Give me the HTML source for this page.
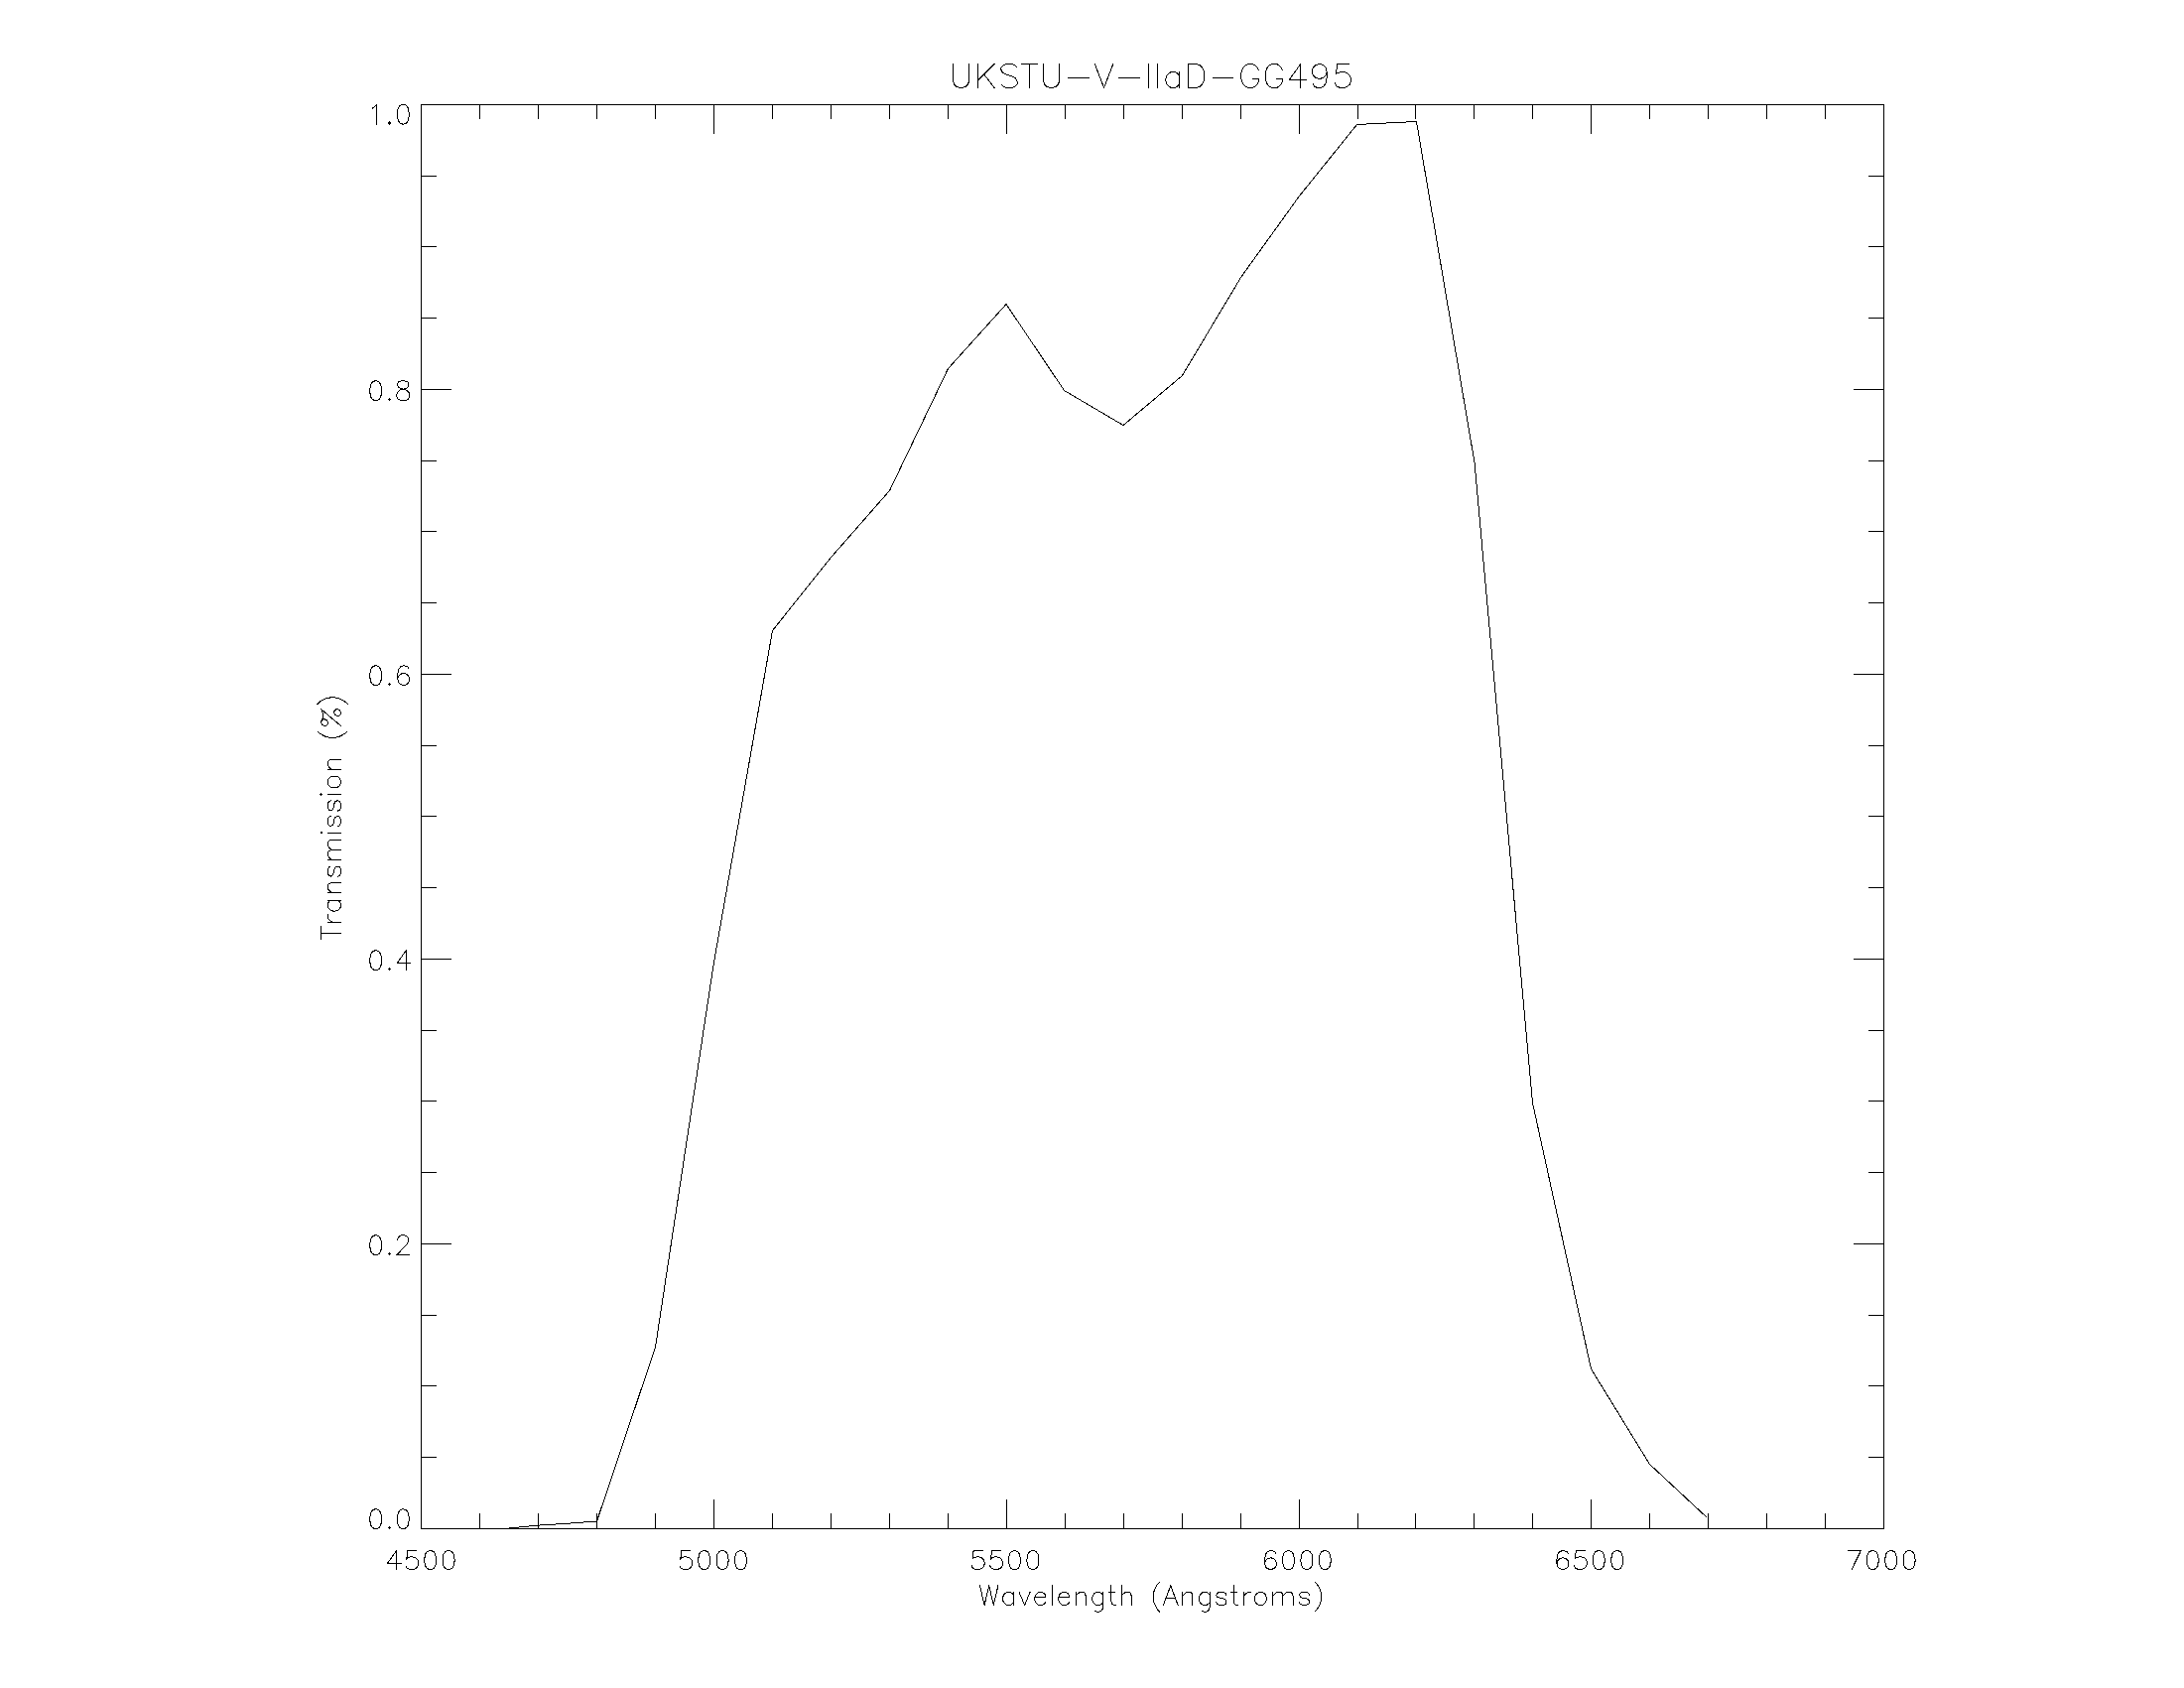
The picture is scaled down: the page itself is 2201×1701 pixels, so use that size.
<!DOCTYPE html>
<html lang="en">
<head>
<meta charset="utf-8">
<title>UKSTU-V-IIaD-GG495 transmission curve</title>
<style>
html,body{margin:0;padding:0;background:#fff;}
body{width:2201px;height:1701px;overflow:hidden;font-family:"Liberation Sans",sans-serif;}
svg{display:block;}
.lbl text{fill:transparent;font-family:"Liberation Sans",sans-serif;}
</style>
</head>
<body>
<svg width="2201" height="1701" viewBox="0 0 2201 1701">
<rect width="2201" height="1701" fill="#fff"/>
<path d="M424 105h1475v1h-1475zM424 1540h1475v1h-1475zM424 105h1v1436h-1zM1898 105h1v1436h-1zM483 1525h1v15h-1zM483 106h1v14h-1zM542 1525h1v15h-1zM542 106h1v14h-1zM601 1525h1v15h-1zM601 106h1v14h-1zM660 1525h1v15h-1zM660 106h1v14h-1zM719 1511h1v29h-1zM719 106h1v29h-1zM778 1525h1v15h-1zM778 106h1v14h-1zM837 1525h1v15h-1zM837 106h1v14h-1zM896 1525h1v15h-1zM896 106h1v14h-1zM955 1525h1v15h-1zM955 106h1v14h-1zM1014 1511h1v29h-1zM1014 106h1v29h-1zM1073 1525h1v15h-1zM1073 106h1v14h-1zM1132 1525h1v15h-1zM1132 106h1v14h-1zM1191 1525h1v15h-1zM1191 106h1v14h-1zM1250 1525h1v15h-1zM1250 106h1v14h-1zM1309 1511h1v29h-1zM1309 106h1v29h-1zM1368 1525h1v15h-1zM1368 106h1v14h-1zM1426 1525h1v15h-1zM1426 106h1v14h-1zM1485 1525h1v15h-1zM1485 106h1v14h-1zM1544 1525h1v15h-1zM1544 106h1v14h-1zM1603 1511h1v29h-1zM1603 106h1v29h-1zM1662 1525h1v15h-1zM1662 106h1v14h-1zM1721 1525h1v15h-1zM1721 106h1v14h-1zM1780 1525h1v15h-1zM1780 106h1v14h-1zM1839 1525h1v15h-1zM1839 106h1v14h-1zM425 1468h15v1h-15zM1883 1468h15v1h-15zM425 1396h15v1h-15zM1883 1396h15v1h-15zM425 1325h15v1h-15zM1883 1325h15v1h-15zM425 1253h30v1h-30zM1868 1253h30v1h-30zM425 1181h15v1h-15zM1883 1181h15v1h-15zM425 1109h15v1h-15zM1883 1109h15v1h-15zM425 1038h15v1h-15zM1883 1038h15v1h-15zM425 966h30v1h-30zM1868 966h30v1h-30zM425 894h15v1h-15zM1883 894h15v1h-15zM425 822h15v1h-15zM1883 822h15v1h-15zM425 751h15v1h-15zM1883 751h15v1h-15zM425 679h30v1h-30zM1868 679h30v1h-30zM425 607h15v1h-15zM1883 607h15v1h-15zM425 535h15v1h-15zM1883 535h15v1h-15zM425 464h15v1h-15zM1883 464h15v1h-15zM425 392h30v1h-30zM1868 392h30v1h-30zM425 320h15v1h-15zM1883 320h15v1h-15zM425 248h15v1h-15zM1883 248h15v1h-15zM425 177h15v1h-15zM1883 177h15v1h-15z" fill="#000" shape-rendering="crispEdges"/>
<path d="M513.5 1539.9 L542.5 1537.1 L572.5 1535.2 L601.5 1533.0 L660.5 1357.5 L719.5 969.5 L778.5 635.5 L838.0 561.0 L896.5 494.5 L955.5 371.5 L1014.0 306.5 L1072.5 393.5 L1132.0 428.5 L1191.5 378.5 L1250.5 279.5 L1309.5 197.5 L1367.5 125.5 L1427.5 122.5 L1486.0 466.0 L1544.5 1111.5 L1603.5 1379.5 L1662.5 1475.5 L1720.5 1529.5" fill="none" stroke="#000" stroke-width="1" stroke-linejoin="miter" shape-rendering="crispEdges"/>
<path d="M399.66 1562.7 L390.46 1575.23 L404.26 1575.23M399.66 1562.7 L399.66 1581.5M419.9 1562.7 L410.7 1562.7 L409.78 1570.76 L410.7 1569.87 L413.46 1568.97 L416.22 1568.97 L418.98 1569.87 L420.82 1571.65 L421.74 1574.34 L421.74 1576.13 L420.82 1578.82 L418.98 1580.61 L416.22 1581.5 L413.46 1581.5 L410.7 1580.61 L409.78 1579.71 L408.86 1577.92M432.85 1562.7 L430.31 1563.6 L428.62 1566.29 L427.78 1570.76 L427.78 1573.44 L428.62 1577.92 L430.31 1580.61 L432.85 1581.5 L434.55 1581.5 L437.09 1580.61 L438.78 1577.92 L439.62 1573.44 L439.62 1570.76 L438.78 1566.29 L437.09 1563.6 L434.55 1562.7 L432.85 1562.7M451.25 1562.7 L448.71 1563.6 L447.02 1566.29 L446.18 1570.76 L446.18 1573.44 L447.02 1577.92 L448.71 1580.61 L451.25 1581.5 L452.95 1581.5 L455.49 1580.61 L457.18 1577.92 L458.02 1573.44 L458.02 1570.76 L457.18 1566.29 L455.49 1563.6 L452.95 1562.7 L451.25 1562.7M695.9 1562.7 L686.7 1562.7 L685.78 1570.76 L686.7 1569.87 L689.46 1568.97 L692.22 1568.97 L694.98 1569.87 L696.82 1571.65 L697.74 1574.34 L697.74 1576.13 L696.82 1578.82 L694.98 1580.61 L692.22 1581.5 L689.46 1581.5 L686.7 1580.61 L685.78 1579.71 L684.86 1577.92M708.85 1562.7 L706.31 1563.6 L704.62 1566.29 L703.78 1570.76 L703.78 1573.44 L704.62 1577.92 L706.31 1580.61 L708.85 1581.5 L710.55 1581.5 L713.09 1580.61 L714.78 1577.92 L715.62 1573.44 L715.62 1570.76 L714.78 1566.29 L713.09 1563.6 L710.55 1562.7 L708.85 1562.7M727.25 1562.7 L724.71 1563.6 L723.02 1566.29 L722.18 1570.76 L722.18 1573.44 L723.02 1577.92 L724.71 1580.61 L727.25 1581.5 L728.95 1581.5 L731.49 1580.61 L733.18 1577.92 L734.02 1573.44 L734.02 1570.76 L733.18 1566.29 L731.49 1563.6 L728.95 1562.7 L727.25 1562.7M745.65 1562.7 L743.11 1563.6 L741.42 1566.29 L740.58 1570.76 L740.58 1573.44 L741.42 1577.92 L743.11 1580.61 L745.65 1581.5 L747.35 1581.5 L749.89 1580.61 L751.58 1577.92 L752.42 1573.44 L752.42 1570.76 L751.58 1566.29 L749.89 1563.6 L747.35 1562.7 L745.65 1562.7M990.3 1562.7 L981.1 1562.7 L980.18 1570.76 L981.1 1569.87 L983.86 1568.97 L986.62 1568.97 L989.38 1569.87 L991.22 1571.65 L992.14 1574.34 L992.14 1576.13 L991.22 1578.82 L989.38 1580.61 L986.62 1581.5 L983.86 1581.5 L981.1 1580.61 L980.18 1579.71 L979.26 1577.92M1008.7 1562.7 L999.5 1562.7 L998.58 1570.76 L999.5 1569.87 L1002.26 1568.97 L1005.02 1568.97 L1007.78 1569.87 L1009.62 1571.65 L1010.54 1574.34 L1010.54 1576.13 L1009.62 1578.82 L1007.78 1580.61 L1005.02 1581.5 L1002.26 1581.5 L999.5 1580.61 L998.58 1579.71 L997.66 1577.92M1021.65 1562.7 L1019.11 1563.6 L1017.42 1566.29 L1016.58 1570.76 L1016.58 1573.44 L1017.42 1577.92 L1019.11 1580.61 L1021.65 1581.5 L1023.35 1581.5 L1025.89 1580.61 L1027.58 1577.92 L1028.42 1573.44 L1028.42 1570.76 L1027.58 1566.29 L1025.89 1563.6 L1023.35 1562.7 L1021.65 1562.7M1040.05 1562.7 L1037.51 1563.6 L1035.82 1566.29 L1034.98 1570.76 L1034.98 1573.44 L1035.82 1577.92 L1037.51 1580.61 L1040.05 1581.5 L1041.75 1581.5 L1044.29 1580.61 L1045.98 1577.92 L1046.82 1573.44 L1046.82 1570.76 L1045.98 1566.29 L1044.29 1563.6 L1041.75 1562.7 L1040.05 1562.7M1285.62 1565.39 L1284.7 1563.6 L1281.94 1562.7 L1280.1 1562.7 L1277.34 1563.6 L1275.5 1566.29 L1274.58 1570.76 L1274.58 1575.23 L1275.5 1578.82 L1277.34 1580.61 L1280.1 1581.5 L1281.02 1581.5 L1283.78 1580.61 L1285.62 1578.82 L1286.54 1576.13 L1286.54 1575.23 L1285.62 1572.55 L1283.78 1570.76 L1281.02 1569.87 L1280.1 1569.87 L1277.34 1570.76 L1275.5 1572.55 L1274.58 1575.23M1297.65 1562.7 L1295.11 1563.6 L1293.42 1566.29 L1292.58 1570.76 L1292.58 1573.44 L1293.42 1577.92 L1295.11 1580.61 L1297.65 1581.5 L1299.35 1581.5 L1301.89 1580.61 L1303.58 1577.92 L1304.42 1573.44 L1304.42 1570.76 L1303.58 1566.29 L1301.89 1563.6 L1299.35 1562.7 L1297.65 1562.7M1316.05 1562.7 L1313.51 1563.6 L1311.82 1566.29 L1310.98 1570.76 L1310.98 1573.44 L1311.82 1577.92 L1313.51 1580.61 L1316.05 1581.5 L1317.75 1581.5 L1320.29 1580.61 L1321.98 1577.92 L1322.82 1573.44 L1322.82 1570.76 L1321.98 1566.29 L1320.29 1563.6 L1317.75 1562.7 L1316.05 1562.7M1334.45 1562.7 L1331.91 1563.6 L1330.22 1566.29 L1329.38 1570.76 L1329.38 1573.44 L1330.22 1577.92 L1331.91 1580.61 L1334.45 1581.5 L1336.15 1581.5 L1338.69 1580.61 L1340.38 1577.92 L1341.22 1573.44 L1341.22 1570.76 L1340.38 1566.29 L1338.69 1563.6 L1336.15 1562.7 L1334.45 1562.7M1580.02 1565.39 L1579.1 1563.6 L1576.34 1562.7 L1574.5 1562.7 L1571.74 1563.6 L1569.9 1566.29 L1568.98 1570.76 L1568.98 1575.23 L1569.9 1578.82 L1571.74 1580.61 L1574.5 1581.5 L1575.42 1581.5 L1578.18 1580.61 L1580.02 1578.82 L1580.94 1576.13 L1580.94 1575.23 L1580.02 1572.55 L1578.18 1570.76 L1575.42 1569.87 L1574.5 1569.87 L1571.74 1570.76 L1569.9 1572.55 L1568.98 1575.23M1597.5 1562.7 L1588.3 1562.7 L1587.38 1570.76 L1588.3 1569.87 L1591.06 1568.97 L1593.82 1568.97 L1596.58 1569.87 L1598.42 1571.65 L1599.34 1574.34 L1599.34 1576.13 L1598.42 1578.82 L1596.58 1580.61 L1593.82 1581.5 L1591.06 1581.5 L1588.3 1580.61 L1587.38 1579.71 L1586.46 1577.92M1610.45 1562.7 L1607.91 1563.6 L1606.22 1566.29 L1605.38 1570.76 L1605.38 1573.44 L1606.22 1577.92 L1607.91 1580.61 L1610.45 1581.5 L1612.15 1581.5 L1614.69 1580.61 L1616.38 1577.92 L1617.22 1573.44 L1617.22 1570.76 L1616.38 1566.29 L1614.69 1563.6 L1612.15 1562.7 L1610.45 1562.7M1628.85 1562.7 L1626.31 1563.6 L1624.62 1566.29 L1623.78 1570.76 L1623.78 1573.44 L1624.62 1577.92 L1626.31 1580.61 L1628.85 1581.5 L1630.55 1581.5 L1633.09 1580.61 L1634.78 1577.92 L1635.62 1573.44 L1635.62 1570.76 L1634.78 1566.29 L1633.09 1563.6 L1630.55 1562.7 L1628.85 1562.7M1875.34 1562.7 L1866.14 1581.5M1862.46 1562.7 L1875.34 1562.7M1886.45 1562.7 L1883.91 1563.6 L1882.22 1566.29 L1881.38 1570.76 L1881.38 1573.44 L1882.22 1577.92 L1883.91 1580.61 L1886.45 1581.5 L1888.15 1581.5 L1890.69 1580.61 L1892.38 1577.92 L1893.22 1573.44 L1893.22 1570.76 L1892.38 1566.29 L1890.69 1563.6 L1888.15 1562.7 L1886.45 1562.7M1904.85 1562.7 L1902.31 1563.6 L1900.62 1566.29 L1899.78 1570.76 L1899.78 1573.44 L1900.62 1577.92 L1902.31 1580.61 L1904.85 1581.5 L1906.55 1581.5 L1909.09 1580.61 L1910.78 1577.92 L1911.62 1573.44 L1911.62 1570.76 L1910.78 1566.29 L1909.09 1563.6 L1906.55 1562.7 L1904.85 1562.7M1923.25 1562.7 L1920.71 1563.6 L1919.02 1566.29 L1918.18 1570.76 L1918.18 1573.44 L1919.02 1577.92 L1920.71 1580.61 L1923.25 1581.5 L1924.95 1581.5 L1927.49 1580.61 L1929.18 1577.92 L1930.02 1573.44 L1930.02 1570.76 L1929.18 1566.29 L1927.49 1563.6 L1924.95 1562.7 L1923.25 1562.7M377.85 1520.97 L375.31 1521.9 L373.62 1524.69 L372.78 1529.34 L372.78 1532.13 L373.62 1536.78 L375.31 1539.57 L377.85 1540.5 L379.55 1540.5 L382.09 1539.57 L383.78 1536.78 L384.62 1532.13 L384.62 1529.34 L383.78 1524.69 L382.09 1521.9 L379.55 1520.97 L377.85 1520.97M405.45 1520.97 L402.91 1521.9 L401.22 1524.69 L400.38 1529.34 L400.38 1532.13 L401.22 1536.78 L402.91 1539.57 L405.45 1540.5 L407.15 1540.5 L409.69 1539.57 L411.38 1536.78 L412.22 1532.13 L412.22 1529.34 L411.38 1524.69 L409.69 1521.9 L407.15 1520.97 L405.45 1520.97M377.85 1244.97 L375.31 1245.9 L373.62 1248.69 L372.78 1253.34 L372.78 1256.13 L373.62 1260.78 L375.31 1263.57 L377.85 1264.5 L379.55 1264.5 L382.09 1263.57 L383.78 1260.78 L384.62 1256.13 L384.62 1253.34 L383.78 1248.69 L382.09 1245.9 L379.55 1244.97 L377.85 1244.97M400.78 1249.62 L400.78 1248.69 L401.7 1246.83 L402.62 1245.9 L404.46 1244.97 L408.14 1244.97 L409.98 1245.9 L410.9 1246.83 L411.82 1248.69 L411.82 1250.55 L410.9 1252.41 L409.06 1255.2 L399.86 1264.5 L412.74 1264.5M377.85 957.97 L375.31 958.9 L373.62 961.69 L372.78 966.34 L372.78 969.13 L373.62 973.78 L375.31 976.57 L377.85 977.5 L379.55 977.5 L382.09 976.57 L383.78 973.78 L384.62 969.13 L384.62 966.34 L383.78 961.69 L382.09 958.9 L379.55 957.97 L377.85 957.97M409.06 957.97 L399.86 970.99 L413.66 970.99M409.06 957.97 L409.06 977.5M377.85 670.97 L375.31 671.9 L373.62 674.69 L372.78 679.34 L372.78 682.13 L373.62 686.78 L375.31 689.57 L377.85 690.5 L379.55 690.5 L382.09 689.57 L383.78 686.78 L384.62 682.13 L384.62 679.34 L383.78 674.69 L382.09 671.9 L379.55 670.97 L377.85 670.97M411.82 673.76 L410.9 671.9 L408.14 670.97 L406.3 670.97 L403.54 671.9 L401.7 674.69 L400.78 679.34 L400.78 683.99 L401.7 687.71 L403.54 689.57 L406.3 690.5 L407.22 690.5 L409.98 689.57 L411.82 687.71 L412.74 684.92 L412.74 683.99 L411.82 681.2 L409.98 679.34 L407.22 678.41 L406.3 678.41 L403.54 679.34 L401.7 681.2 L400.78 683.99M377.85 383.97 L375.31 384.9 L373.62 387.69 L372.78 392.34 L372.78 395.13 L373.62 399.78 L375.31 402.57 L377.85 403.5 L379.55 403.5 L382.09 402.57 L383.78 399.78 L384.62 395.13 L384.62 392.34 L383.78 387.69 L382.09 384.9 L379.55 383.97 L377.85 383.97M404.46 383.97 L401.7 384.9 L400.78 386.76 L400.78 388.62 L401.7 390.48 L403.54 391.41 L407.22 392.34 L409.98 393.27 L411.82 395.13 L412.74 396.99 L412.74 399.78 L411.82 401.64 L410.9 402.57 L408.14 403.5 L404.46 403.5 L401.7 402.57 L400.78 401.64 L399.86 399.78 L399.86 396.99 L400.78 395.13 L402.62 393.27 L405.38 392.34 L409.06 391.41 L410.9 390.48 L411.82 388.62 L411.82 386.76 L410.9 384.9 L408.14 383.97 L404.46 383.97M375.02 109.19 L376.86 108.26 L379.62 105.47 L379.62 125M405.45 105.47 L402.91 106.4 L401.22 109.19 L400.38 113.84 L400.38 116.63 L401.22 121.28 L402.91 124.07 L405.45 125 L407.15 125 L409.69 124.07 L411.38 121.28 L412.22 116.63 L412.22 113.84 L411.38 109.19 L409.69 106.4 L407.15 105.47 L405.45 105.47M960.51 64.56 L960.51 81.66 L961.66 85.08 L963.96 87.36 L967.42 88.5 L969.72 88.5 L973.18 87.36 L975.48 85.08 L976.64 81.66 L976.64 64.56M985.85 64.56 L985.85 88.5M1001.98 64.56 L985.85 80.52M991.61 74.82 L1001.98 88.5M1025.02 67.98 L1022.72 65.7 L1019.26 64.56 L1014.65 64.56 L1011.2 65.7 L1008.89 67.98 L1008.89 70.26 L1010.04 72.54 L1011.2 73.68 L1013.5 74.82 L1020.41 77.1 L1022.72 78.24 L1023.87 79.38 L1025.02 81.66 L1025.02 85.08 L1022.72 87.36 L1019.26 88.5 L1014.65 88.5 L1011.2 87.36 L1008.89 85.08M1037.69 64.56 L1037.69 88.5M1029.63 64.56 L1045.76 64.56M1051.52 64.56 L1051.52 81.66 L1052.67 85.08 L1054.97 87.36 L1058.43 88.5 L1060.73 88.5 L1064.19 87.36 L1066.49 85.08 L1067.64 81.66 L1067.64 64.56M1076.86 78.24 L1097.6 78.24M1103.36 64.56 L1112.57 88.5M1121.79 64.56 L1112.57 88.5M1127.55 78.24 L1148.28 78.24M1157.5 64.56 L1157.5 88.5M1166.72 64.56 L1166.72 88.5M1188.6 72.54 L1188.6 88.5M1188.6 75.96 L1186.3 73.68 L1184 72.54 L1180.54 72.54 L1178.24 73.68 L1175.93 75.96 L1174.78 79.38 L1174.78 81.66 L1175.93 85.08 L1178.24 87.36 L1180.54 88.5 L1184 88.5 L1186.3 87.36 L1188.6 85.08M1197.82 64.56 L1197.82 88.5M1197.82 64.56 L1205.88 64.56 L1209.34 65.7 L1211.64 67.98 L1212.8 70.26 L1213.95 73.68 L1213.95 79.38 L1212.8 82.8 L1211.64 85.08 L1209.34 87.36 L1205.88 88.5 L1197.82 88.5M1222.01 78.24 L1242.75 78.24M1268.09 70.26 L1266.94 67.98 L1264.64 65.7 L1262.33 64.56 L1257.72 64.56 L1255.42 65.7 L1253.12 67.98 L1251.96 70.26 L1250.81 73.68 L1250.81 79.38 L1251.96 82.8 L1253.12 85.08 L1255.42 87.36 L1257.72 88.5 L1262.33 88.5 L1264.64 87.36 L1266.94 85.08 L1268.09 82.8 L1268.09 79.38M1262.33 79.38 L1268.09 79.38M1292.28 70.26 L1291.13 67.98 L1288.83 65.7 L1286.52 64.56 L1281.92 64.56 L1279.61 65.7 L1277.31 67.98 L1276.16 70.26 L1275 73.68 L1275 79.38 L1276.16 82.8 L1277.31 85.08 L1279.61 87.36 L1281.92 88.5 L1286.52 88.5 L1288.83 87.36 L1291.13 85.08 L1292.28 82.8 L1292.28 79.38M1286.52 79.38 L1292.28 79.38M1310.72 64.56 L1299.2 80.52 L1316.48 80.52M1310.72 64.56 L1310.72 88.5M1337.21 72.54 L1336.06 75.96 L1333.76 78.24 L1330.3 79.38 L1329.15 79.38 L1325.69 78.24 L1323.39 75.96 L1322.24 72.54 L1322.24 71.4 L1323.39 67.98 L1325.69 65.7 L1329.15 64.56 L1330.3 64.56 L1333.76 65.7 L1336.06 67.98 L1337.21 72.54 L1337.21 78.24 L1336.06 83.94 L1333.76 87.36 L1330.3 88.5 L1328 88.5 L1324.54 87.36 L1323.39 85.08M1359.1 64.56 L1347.58 64.56 L1346.43 74.82 L1347.58 73.68 L1351.04 72.54 L1354.49 72.54 L1357.95 73.68 L1360.25 75.96 L1361.4 79.38 L1361.4 81.66 L1360.25 85.08 L1357.95 87.36 L1354.49 88.5 L1351.04 88.5 L1347.58 87.36 L1346.43 86.22 L1345.28 83.94M987.5 1597.76 L992.1 1617.5M996.7 1597.76 L992.1 1617.5M996.7 1597.76 L1001.3 1617.5M1005.9 1597.76 L1001.3 1617.5M1021.54 1604.34 L1021.54 1617.5M1021.54 1607.16 L1019.7 1605.28 L1017.86 1604.34 L1015.1 1604.34 L1013.26 1605.28 L1011.42 1607.16 L1010.5 1609.98 L1010.5 1611.86 L1011.42 1614.68 L1013.26 1616.56 L1015.1 1617.5 L1017.86 1617.5 L1019.7 1616.56 L1021.54 1614.68M1027.06 1604.34 L1032.58 1617.5M1038.1 1604.34 L1032.58 1617.5M1042.7 1609.98 L1053.74 1609.98 L1053.74 1608.1 L1052.82 1606.22 L1051.9 1605.28 L1050.06 1604.34 L1047.3 1604.34 L1045.46 1605.28 L1043.62 1607.16 L1042.7 1609.98 L1042.7 1611.86 L1043.62 1614.68 L1045.46 1616.56 L1047.3 1617.5 L1050.06 1617.5 L1051.9 1616.56 L1053.74 1614.68M1060.18 1597.76 L1060.18 1617.5M1066.62 1609.98 L1077.66 1609.98 L1077.66 1608.1 L1076.74 1606.22 L1075.82 1605.28 L1073.98 1604.34 L1071.22 1604.34 L1069.38 1605.28 L1067.54 1607.16 L1066.62 1609.98 L1066.62 1611.86 L1067.54 1614.68 L1069.38 1616.56 L1071.22 1617.5 L1073.98 1617.5 L1075.82 1616.56 L1077.66 1614.68M1084.1 1604.34 L1084.1 1617.5M1084.1 1608.1 L1086.86 1605.28 L1088.7 1604.34 L1091.46 1604.34 L1093.3 1605.28 L1094.22 1608.1 L1094.22 1617.5M1111.7 1604.34 L1111.7 1619.38 L1110.78 1622.2 L1109.86 1623.14 L1108.02 1624.08 L1105.26 1624.08 L1103.42 1623.14M1111.7 1607.16 L1109.86 1605.28 L1108.02 1604.34 L1105.26 1604.34 L1103.42 1605.28 L1101.58 1607.16 L1100.66 1609.98 L1100.66 1611.86 L1101.58 1614.68 L1103.42 1616.56 L1105.26 1617.5 L1108.02 1617.5 L1109.86 1616.56 L1111.7 1614.68M1119.98 1597.76 L1119.98 1613.74 L1120.9 1616.56 L1122.74 1617.5 L1124.58 1617.5M1117.22 1604.34 L1123.66 1604.34M1130.1 1597.76 L1130.1 1617.5M1130.1 1608.1 L1132.86 1605.28 L1134.7 1604.34 L1137.46 1604.34 L1139.3 1605.28 L1140.22 1608.1 L1140.22 1617.5M1168.74 1594 L1166.9 1595.88 L1165.06 1598.7 L1163.22 1602.46 L1162.3 1607.16 L1162.3 1610.92 L1163.22 1615.62 L1165.06 1619.38 L1166.9 1622.2 L1168.74 1624.08M1179.78 1597.76 L1172.42 1617.5M1179.78 1597.76 L1187.14 1617.5M1175.18 1610.92 L1184.38 1610.92M1191.74 1604.34 L1191.74 1617.5M1191.74 1608.1 L1194.5 1605.28 L1196.34 1604.34 L1199.1 1604.34 L1200.94 1605.28 L1201.86 1608.1 L1201.86 1617.5M1219.34 1604.34 L1219.34 1619.38 L1218.42 1622.2 L1217.5 1623.14 L1215.66 1624.08 L1212.9 1624.08 L1211.06 1623.14M1219.34 1607.16 L1217.5 1605.28 L1215.66 1604.34 L1212.9 1604.34 L1211.06 1605.28 L1209.22 1607.16 L1208.3 1609.98 L1208.3 1611.86 L1209.22 1614.68 L1211.06 1616.56 L1212.9 1617.5 L1215.66 1617.5 L1217.5 1616.56 L1219.34 1614.68M1235.9 1607.16 L1234.98 1605.28 L1232.22 1604.34 L1229.46 1604.34 L1226.7 1605.28 L1225.78 1607.16 L1226.7 1609.04 L1228.54 1609.98 L1233.14 1610.92 L1234.98 1611.86 L1235.9 1613.74 L1235.9 1614.68 L1234.98 1616.56 L1232.22 1617.5 L1229.46 1617.5 L1226.7 1616.56 L1225.78 1614.68M1243.26 1597.76 L1243.26 1613.74 L1244.18 1616.56 L1246.02 1617.5 L1247.86 1617.5M1240.5 1604.34 L1246.94 1604.34M1253.38 1604.34 L1253.38 1617.5M1253.38 1609.98 L1254.3 1607.16 L1256.14 1605.28 L1257.98 1604.34 L1260.74 1604.34M1269.02 1604.34 L1267.18 1605.28 L1265.34 1607.16 L1264.42 1609.98 L1264.42 1611.86 L1265.34 1614.68 L1267.18 1616.56 L1269.02 1617.5 L1271.78 1617.5 L1273.62 1616.56 L1275.46 1614.68 L1276.38 1611.86 L1276.38 1609.98 L1275.46 1607.16 L1273.62 1605.28 L1271.78 1604.34 L1269.02 1604.34M1282.82 1604.34 L1282.82 1617.5M1282.82 1608.1 L1285.58 1605.28 L1287.42 1604.34 L1290.18 1604.34 L1292.02 1605.28 L1292.94 1608.1 L1292.94 1617.5M1292.94 1608.1 L1295.7 1605.28 L1297.54 1604.34 L1300.3 1604.34 L1302.14 1605.28 L1303.06 1608.1 L1303.06 1617.5M1319.62 1607.16 L1318.7 1605.28 L1315.94 1604.34 L1313.18 1604.34 L1310.42 1605.28 L1309.5 1607.16 L1310.42 1609.04 L1312.26 1609.98 L1316.86 1610.92 L1318.7 1611.86 L1319.62 1613.74 L1319.62 1614.68 L1318.7 1616.56 L1315.94 1617.5 L1313.18 1617.5 L1310.42 1616.56 L1309.5 1614.68M1325.14 1594 L1326.98 1595.88 L1328.82 1598.7 L1330.66 1602.46 L1331.58 1607.16 L1331.58 1610.92 L1330.66 1615.62 L1328.82 1619.38 L1326.98 1622.2 L1325.14 1624.08M323.76 940.24 L343.5 940.24M323.76 946.68 L323.76 933.8M330.34 929.2 L343.5 929.2M335.98 929.2 L333.16 928.28 L331.28 926.44 L330.34 924.6 L330.34 921.84M330.34 907.12 L343.5 907.12M333.16 907.12 L331.28 908.96 L330.34 910.8 L330.34 913.56 L331.28 915.4 L333.16 917.24 L335.98 918.16 L337.86 918.16 L340.68 917.24 L342.56 915.4 L343.5 913.56 L343.5 910.8 L342.56 908.96 L340.68 907.12M330.34 899.76 L343.5 899.76M334.1 899.76 L331.28 897 L330.34 895.16 L330.34 892.4 L331.28 890.56 L334.1 889.64 L343.5 889.64M333.16 873.08 L331.28 874 L330.34 876.76 L330.34 879.52 L331.28 882.28 L333.16 883.2 L335.04 882.28 L335.98 880.44 L336.92 875.84 L337.86 874 L339.74 873.08 L340.68 873.08 L342.56 874 L343.5 876.76 L343.5 879.52 L342.56 882.28 L340.68 883.2M330.34 866.64 L343.5 866.64M334.1 866.64 L331.28 863.88 L330.34 862.04 L330.34 859.28 L331.28 857.44 L334.1 856.52 L343.5 856.52M334.1 856.52 L331.28 853.76 L330.34 851.92 L330.34 849.16 L331.28 847.32 L334.1 846.4 L343.5 846.4M323.76 839.96 L324.7 839.04 L323.76 838.12 L322.82 839.04 L323.76 839.96M330.34 839.04 L343.5 839.04M333.16 822.48 L331.28 823.4 L330.34 826.16 L330.34 828.92 L331.28 831.68 L333.16 832.6 L335.04 831.68 L335.98 829.84 L336.92 825.24 L337.86 823.4 L339.74 822.48 L340.68 822.48 L342.56 823.4 L343.5 826.16 L343.5 828.92 L342.56 831.68 L340.68 832.6M333.16 806.84 L331.28 807.76 L330.34 810.52 L330.34 813.28 L331.28 816.04 L333.16 816.96 L335.04 816.04 L335.98 814.2 L336.92 809.6 L337.86 807.76 L339.74 806.84 L340.68 806.84 L342.56 807.76 L343.5 810.52 L343.5 813.28 L342.56 816.04 L340.68 816.96M323.76 801.32 L324.7 800.4 L323.76 799.48 L322.82 800.4 L323.76 801.32M330.34 800.4 L343.5 800.4M330.34 789.36 L331.28 791.2 L333.16 793.04 L335.98 793.96 L337.86 793.96 L340.68 793.04 L342.56 791.2 L343.5 789.36 L343.5 786.6 L342.56 784.76 L340.68 782.92 L337.86 782 L335.98 782 L333.16 782.92 L331.28 784.76 L330.34 786.6 L330.34 789.36M330.34 775.56 L343.5 775.56M334.1 775.56 L331.28 772.8 L330.34 770.96 L330.34 768.2 L331.28 766.36 L334.1 765.44 L343.5 765.44M320 736.92 L321.88 738.76 L324.7 740.6 L328.46 742.44 L333.16 743.36 L336.92 743.36 L341.62 742.44 L345.38 740.6 L348.2 738.76 L350.08 736.92M323.76 714.84 L343.5 731.4M323.76 726.8 L325.64 724.96 L327.52 724.96 L329.4 725.88 L330.34 727.72 L330.34 729.56 L328.46 731.4 L326.58 731.4 L324.7 730.48 L323.76 728.64 L323.76 726.8 L324.7 724.96 L325.64 722.2 L325.64 719.44 L324.7 716.68 L323.76 714.84M336.92 718.52 L337.86 720.36 L339.74 721.28 L341.62 721.28 L343.5 719.44 L343.5 717.6 L342.56 715.76 L340.68 714.84 L338.8 714.84 L336.92 716.68 L336.92 718.52M320 709.32 L321.88 707.48 L324.7 705.64 L328.46 703.8 L333.16 702.88 L336.92 702.88 L341.62 703.8 L345.38 705.64 L348.2 707.48 L350.08 709.32" fill="none" stroke="#000" stroke-width="1" stroke-linecap="square" stroke-linejoin="miter" shape-rendering="crispEdges"/>
<path d="M392.5 1538.64 L391.58 1539.57 L392.5 1540.5 L393.42 1539.57 L392.5 1538.64ZM392.5 1262.64 L391.58 1263.57 L392.5 1264.5 L393.42 1263.57 L392.5 1262.64ZM392.5 975.64 L391.58 976.57 L392.5 977.5 L393.42 976.57 L392.5 975.64ZM392.5 688.64 L391.58 689.57 L392.5 690.5 L393.42 689.57 L392.5 688.64ZM392.5 401.64 L391.58 402.57 L392.5 403.5 L393.42 402.57 L392.5 401.64ZM392.5 123.14 L391.58 124.07 L392.5 125 L393.42 124.07 L392.5 123.14Z" fill="#000" stroke="#000" stroke-width="1" shape-rendering="crispEdges"/>
<g class="lbl">
<text x="424.5" y="1581.5" text-anchor="middle" font-size="20">4500</text>
<text x="718.9" y="1581.5" text-anchor="middle" font-size="20">5000</text>
<text x="1013.3" y="1581.5" text-anchor="middle" font-size="20">5500</text>
<text x="1307.7" y="1581.5" text-anchor="middle" font-size="20">6000</text>
<text x="1602.1" y="1581.5" text-anchor="middle" font-size="20">6500</text>
<text x="1896.5" y="1581.5" text-anchor="middle" font-size="20">7000</text>
<text x="415.5" y="1540.5" text-anchor="end" font-size="20">0.0</text>
<text x="415.5" y="1264.5" text-anchor="end" font-size="20">0.2</text>
<text x="415.5" y="977.5" text-anchor="end" font-size="20">0.4</text>
<text x="415.5" y="690.5" text-anchor="end" font-size="20">0.6</text>
<text x="415.5" y="403.5" text-anchor="end" font-size="20">0.8</text>
<text x="415.5" y="125.0" text-anchor="end" font-size="20">1.0</text>
<text x="1160.4" y="88.5" text-anchor="middle" font-size="25">UKSTU-V-IIaD-GG495</text>
<text x="1160.5" y="1617.5" text-anchor="middle" font-size="20">Wavelength (Angstroms)</text>
<text x="343.5" y="823.4" text-anchor="middle" font-size="20" transform="rotate(-90 343.5 823.4)">Transmission (%)</text>
</g>
</svg>
</body>
</html>
